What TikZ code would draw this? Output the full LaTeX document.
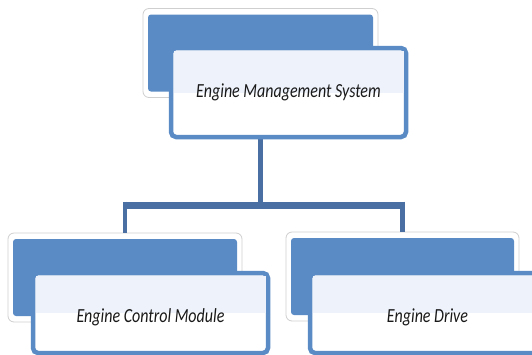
\documentclass[tikz,border=0pt]{standalone}
\usepackage{fontspec}
\setmainfont{Carlito}
\usetikzlibrary{calc}
\definecolor{boxblue}{HTML}{5B8BC5}
\definecolor{linkblue}{HTML}{4A70A3}
\definecolor{paleblue}{HTML}{EEF2FA}
\definecolor{rimgray}{HTML}{CFCFCF}
\tikzset{
  backbox/.style={draw=rimgray, line width=0.8pt, fill=white, rounded corners=6pt,
    minimum width=#1, minimum height=89pt, inner sep=0pt, outer sep=0pt},
  frontbox/.style={draw=boxblue, line width=4.5pt, fill=white, rounded corners=5pt,
    minimum width=235pt, minimum height=#1, inner sep=0pt, outer sep=0pt},
  label/.style={font=\itshape\fontsize{20}{20}\selectfont, xscale=0.8, text=black!90},
  link/.style={draw=linkblue, line width=4.5pt},
  bar/.style={draw=linkblue, line width=7pt},
}
\begin{document}
\begin{tikzpicture}[x=1pt,y=-1pt]
\useasboundingbox (0,0) rectangle (532,354);
\clip (0,0) rectangle (532,354);

% back panels: white card with a blue slab inside
\node[backbox=235pt] (topback) at (260.5,53) {};
\node[backbox=234pt] (leftback) at (125,277.5) {};
\node[backbox=233pt] (rightback) at (402.5,276.5) {};
\foreach \b in {topback,leftback,rightback}
  \fill[boxblue, rounded corners=3pt] ($(\b.north west)+(5,6)$) rectangle ($(\b.south east)+(-5,-6)$);

% connectors of the tree
\draw[link] (topback.center |- 0,137) coordinate (stem) -- (topback.center |- 0,205) coordinate (fork);
\draw[bar, line cap=butt] (leftback.center |- fork) coordinate (forkl) -- (rightback.center |- fork) coordinate (forkr);
\draw[link] (forkl) ++(0,-3.5) -- (leftback.north);
\draw[link] (forkr) ++(0,-3.5) -- (rightback.north);
\fill[linkblue] ($(forkl)+(-2.25,-3.5)$) rectangle ($(forkr)+(2.25,3.5)$);

% front cards carrying the labels
\node[frontbox=89pt] (topfront) at (288.5,92.5) {};
\node[frontbox=80pt] (leftfront) at (150.5,313) {};
\node[frontbox=80pt] (rightfront) at (427.5,313) {};
\foreach \f in {topfront,leftfront,rightfront}
  \fill[paleblue] ($(\f.north west)+(2.5,2.5)$) rectangle ($(\f.east)+(-2.5,0)$);

\node[label] at ($(topfront.center)+(0,0)$) {Engine Management System};
\node[label] at ($(leftfront.center)+(0,4)$) {Engine Control Module};
\node[label] at ($(rightfront.center)+(0,4)$) {Engine Drive};
\end{tikzpicture}
\end{document}
